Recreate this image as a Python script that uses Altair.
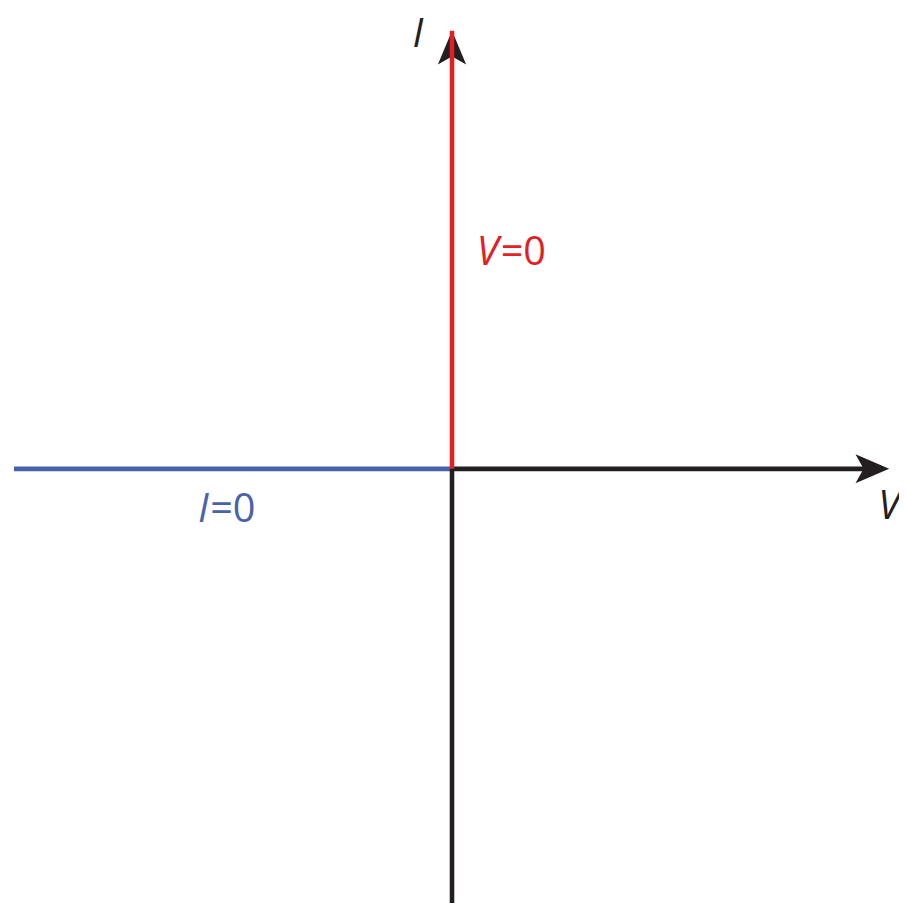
import altair as alt
import pandas as pd

# line segments of the I-V diagram (data units)
seg_name = ["I=0 branch", "V axis", "I axis lower", "V=0 branch"]
seg_v1 = [-1.0, 0.0, 0.0, 0.0]
seg_v2 = [0.0, 0.96, 0.0, 0.0]
seg_i1 = [0.0, 0.0, 0.0, 0.0]
seg_i2 = [0.0, 0.0, -1.0, 1.0]
seg_color = ["#4a62a9", "#231f20", "#231f20", "#e31f26"]

# arrow heads
arrow_dir = ["up", "right"]
arrow_v = [0.0, 0.998]
arrow_i = [1.0, 0.0]

# italic letters
let_text = ["I", "V", "V", "I"]
let_v = [-0.090, 0.973, 0.0566, -0.580]
let_i = [0.964, -0.115, 0.466, -0.122]
let_color = ["#231f20", "#231f20", "#e31f26", "#4a62a9"]

# upright suffixes
suf_text = ["=0", "=0"]
suf_v = [0.111, -0.552]
suf_i = [0.466, -0.122]
suf_color = ["#e31f26", "#4a62a9"]

segs = pd.DataFrame({"name": seg_name, "v1": seg_v1, "v2": seg_v2,
                     "i1": seg_i1, "i2": seg_i2, "color": seg_color})
arrows = pd.DataFrame({"dir": arrow_dir, "v": arrow_v, "i": arrow_i})
letters = pd.DataFrame({"t": let_text, "v": let_v, "i": let_i, "color": let_color})
suffixes = pd.DataFrame({"t": suf_text, "v": suf_v, "i": suf_i, "color": suf_color})

xs = alt.Scale(domain=[-1.0136, 1.0204], nice=False, zero=False)
ys = alt.Scale(domain=[-0.982, 1.043], nice=False, zero=False)

path_up = "M0,0 L0.84,2 L0,1.52 L-0.84,2 Z"
path_right = "M0,0 L-2,-0.86 L-1.52,0 L-2,0.86 Z"

FONT = "Open Sans"

base_seg = alt.Chart(segs)
lines_bk = base_seg.transform_filter(alt.datum.name != "V=0 branch").mark_rule(
    strokeWidth=4.6).encode(
    x=alt.X("v1:Q", scale=xs, axis=None), x2="v2:Q",
    y=alt.Y("i1:Q", scale=ys, axis=None), y2="i2:Q",
    color=alt.Color("color:N", scale=None))
line_red = base_seg.transform_filter(alt.datum.name == "V=0 branch").mark_rule(
    strokeWidth=4.6).encode(
    x=alt.X("v1:Q", scale=xs, axis=None), x2="v2:Q",
    y=alt.Y("i1:Q", scale=ys, axis=None), y2="i2:Q",
    color=alt.Color("color:N", scale=None))

heads = alt.Chart(arrows).mark_point(filled=True, opacity=1, color="#231f20",
                                     size=1156, strokeWidth=0).encode(
    x=alt.X("v:Q", scale=xs, axis=None),
    y=alt.Y("i:Q", scale=ys, axis=None),
    shape=alt.Shape("dir:N", scale=alt.Scale(domain=["up", "right"],
                                             range=[path_up, path_right]),
                    legend=None))

lett = alt.Chart(letters).mark_text(font=FONT, fontSize=40, fontStyle="italic",
                                    align="left", baseline="alphabetic").encode(
    x=alt.X("v:Q", scale=xs, axis=None),
    y=alt.Y("i:Q", scale=ys, axis=None),
    text="t:N", color=alt.Color("color:N", scale=None))
suff = alt.Chart(suffixes).mark_text(font=FONT, fontSize=40,
                                     align="left", baseline="alphabetic").encode(
    x=alt.X("v:Q", scale=xs, axis=None),
    y=alt.Y("i:Q", scale=ys, axis=None),
    text="t:N", color=alt.Color("color:N", scale=None))

chart = alt.layer(lines_bk, heads, line_red, lett, suff).properties(
    width=899, height=895, padding=0,
    autosize=alt.AutoSizeParams(type="none"),
    background="white",
).configure_view(stroke=None)

chart.save("out.html", embed_options={"renderer": "svg", "actions": False})
